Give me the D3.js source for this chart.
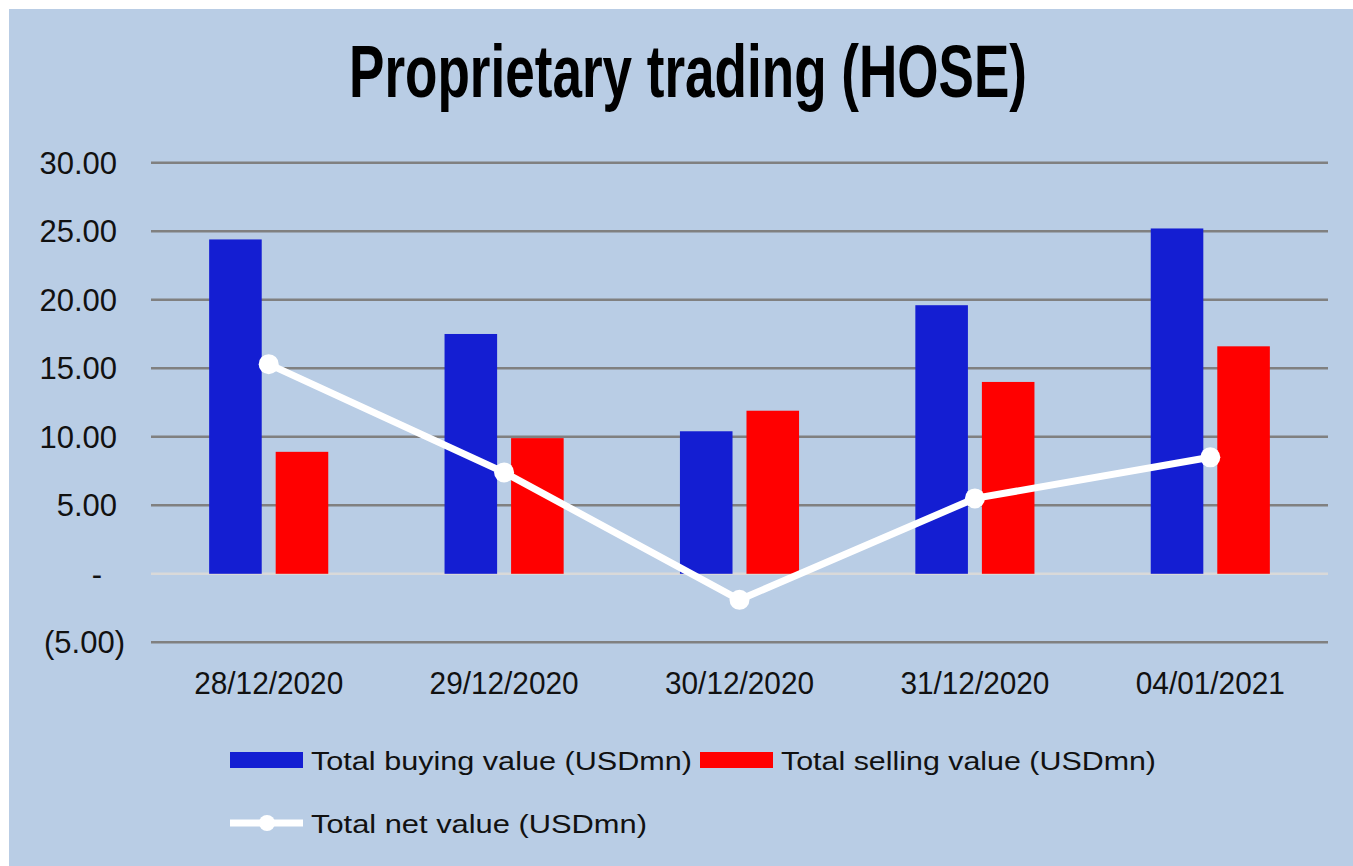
<!DOCTYPE html>
<html lang="en">
  <head>
    <meta charset="utf-8" />
    <title>Proprietary trading (HOSE)</title>
    <script src="https://cdn.jsdelivr.net/npm/d3@7"></script>
    <style type="text/css">
body { margin: 0; background: white; }
svg text { font-family: "Liberation Sans", Arial, sans-serif; }
    </style>
  </head>
  <body>
    <script type="text/javascript">
// values (USD mn)
var dates = ["28/12/2020", "29/12/2020", "30/12/2020", "31/12/2020", "04/01/2021"];
var buying = [24.4, 17.5, 10.4, 19.6, 25.2];
var selling = [8.9, 9.9, 11.9, 14.0, 16.6];
var net = [15.3, 7.4, -1.9, 5.5, 8.5];
var seriesNames = ["Total buying value (USDmn)", "Total selling value (USDmn)", "Total net value (USDmn)"];
var yTicks = [-5, 0, 5, 10, 15, 20, 25, 30];

var w = 1353, h = 866;
var pad = { left: 151, right: 25, top: 162.7, bottom: 223.7 };
var blue = "#141ed2", red = "#ff0000", bg = "#b9cde5";

var svg = d3.select("body")
            .append("svg")
            .attr("width", w)
            .attr("height", h);

svg.append("rect")
   .attr("x", 9).attr("y", 9)
   .attr("width", w - 9).attr("height", h - 9)
   .attr("fill", bg);

// title
svg.append("text")
   .attr("x", 688).attr("y", 97)
   .attr("text-anchor", "middle")
   .attr("font-size", "74px")
   .attr("font-weight", "bold")
   .attr("textLength", 678)
   .attr("lengthAdjust", "spacingAndGlyphs")
   .text("Proprietary trading (HOSE)");

var xScale = d3.scaleBand()
               .domain(dates)
               .range([pad.left, w - pad.right])
               .paddingInner(0.494)
               .paddingOuter(0.247);
var inner = d3.scaleBand()
              .domain([0, 1])
              .range([0, xScale.bandwidth()])
              .paddingInner(0.21);
var yScale = d3.scaleLinear()
               .domain([-5, 30])
               .range([h - pad.bottom, pad.top]);

// gridlines
svg.append("g")
   .selectAll("line")
   .data(yTicks)
   .enter()
   .append("line")
   .attr("x1", pad.left)
   .attr("x2", w - pad.right)
   .attr("y1", function(d) { return yScale(d); })
   .attr("y2", function(d) { return yScale(d); })
   .attr("stroke", function(d) { return d === 0 ? "#d9d9d9" : "#808080"; })
   .attr("stroke-width", 2.5);

// y labels, accounting style
var fmt = d3.format(".2f");
svg.append("g")
   .selectAll("text")
   .data(yTicks)
   .enter()
   .append("text")
   .attr("x", 125)
   .attr("dx", function(d) { return d > 0 ? -8 : (d === 0 ? -23 : 0); })
   .attr("y", function(d) { return yScale(d) + 11; })
   .attr("text-anchor", "end")
   .attr("font-size", "31px")
   .attr("fill", "#111")
   .text(function(d) {
     if (d === 0) return "-";
     return d < 0 ? "(" + fmt(-d) + ")" : fmt(d);
   });

// x labels
svg.append("g")
   .selectAll("text")
   .data(dates)
   .enter()
   .append("text")
   .attr("x", function(d) { return xScale(d) + xScale.bandwidth() / 2; })
   .attr("y", 694)
   .attr("text-anchor", "middle")
   .attr("font-size", "32px")
   .attr("fill", "#111")
   .attr("textLength", 149)
   .attr("lengthAdjust", "spacingAndGlyphs")
   .text(function(d) { return d; });

// bars
var bars = svg.append("g");
[buying, selling].forEach(function(vals, s) {
  bars.selectAll("rect.s" + s)
      .data(vals)
      .enter()
      .append("rect")
      .attr("class", "s" + s)
      .attr("x", function(d, i) { return xScale(dates[i]) + inner(s); })
      .attr("y", function(d) { return yScale(d); })
      .attr("width", inner.bandwidth())
      .attr("height", function(d) { return yScale(0) - yScale(d); })
      .attr("fill", s === 0 ? blue : red);
});

// net line
var line = d3.line()
             .x(function(d, i) { return xScale(dates[i]) + xScale.bandwidth() / 2; })
             .y(function(d) { return yScale(d); });
svg.append("path")
   .datum(net)
   .attr("d", line)
   .attr("fill", "none")
   .attr("stroke", "white")
   .attr("stroke-width", 7);
svg.append("g")
   .selectAll("circle")
   .data(net)
   .enter()
   .append("circle")
   .attr("cx", function(d, i) { return xScale(dates[i]) + xScale.bandwidth() / 2; })
   .attr("cy", function(d) { return yScale(d); })
   .attr("r", 10)
   .attr("fill", "white");

// legend
var legend = svg.append("g");
var items = [
  { x: 230, y: 760, color: blue, kind: "bar", len: 381 },
  { x: 700, y: 760, color: red, kind: "bar", len: 375 },
  { x: 230, y: 823, color: "white", kind: "line", len: 336 }
];
items.forEach(function(it, i) {
  if (it.kind === "bar") {
    legend.append("rect")
          .attr("x", it.x).attr("y", it.y - 8)
          .attr("width", 73).attr("height", 16)
          .attr("fill", it.color);
  } else {
    legend.append("line")
          .attr("x1", it.x).attr("x2", it.x + 73)
          .attr("y1", it.y).attr("y2", it.y)
          .attr("stroke", it.color)
          .attr("stroke-width", 7);
    legend.append("circle")
          .attr("cx", it.x + 37).attr("cy", it.y)
          .attr("r", 8)
          .attr("fill", it.color);
  }
  legend.append("text")
        .attr("x", it.x + 81)
        .attr("y", it.y + 10)
        .attr("font-size", "26px")
        .attr("fill", "#111")
        .attr("textLength", it.len)
        .attr("lengthAdjust", "spacingAndGlyphs")
        .text(seriesNames[i]);
});
    </script>
  </body>
</html>
